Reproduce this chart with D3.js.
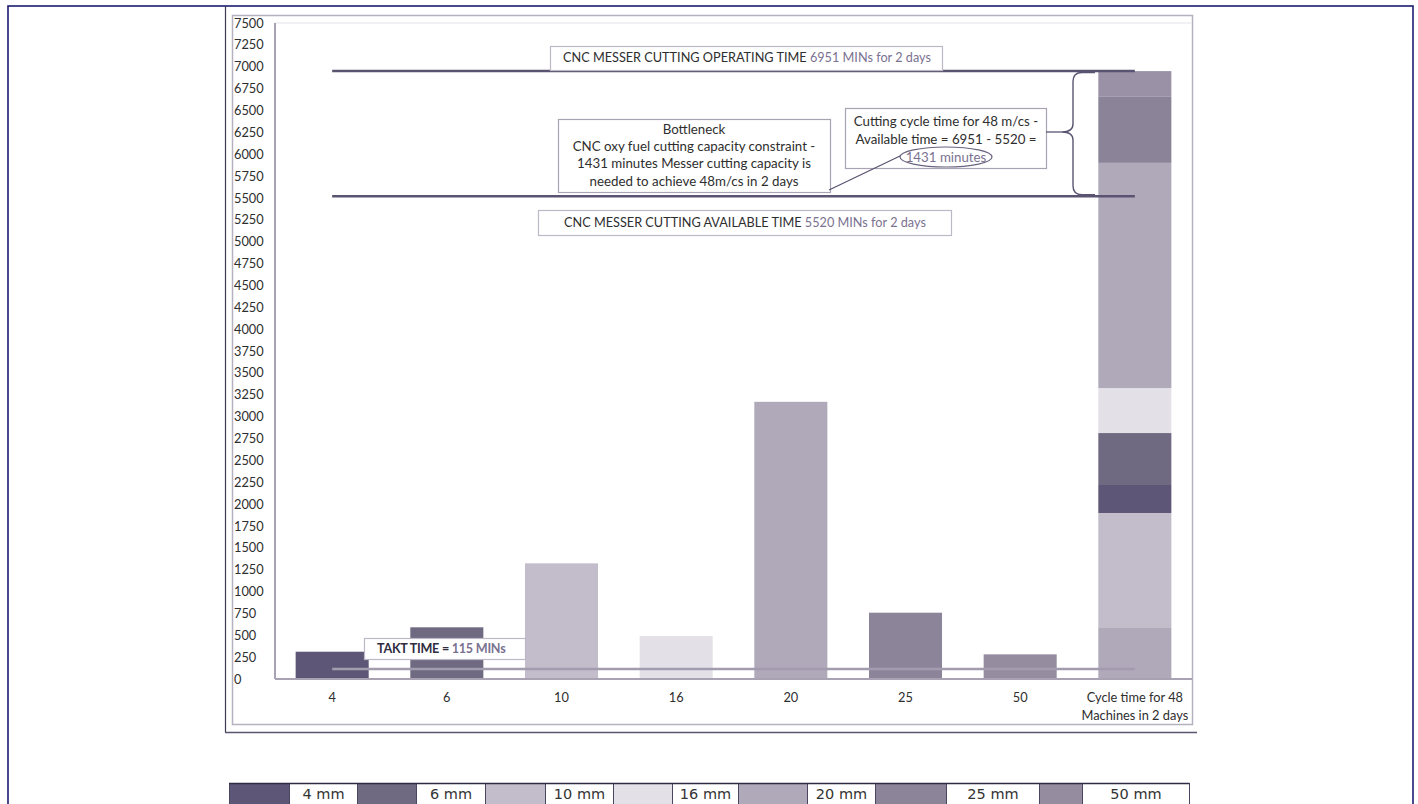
<!DOCTYPE html>
<html>
<head>
<meta charset="utf-8">
<script src="https://cdn.jsdelivr.net/npm/d3@7"></script>
<style>
  html, body { margin: 0; padding: 0; background: #ffffff; }
  svg { display: block; }
</style>
</head>
<body>
<svg id="chart" width="1418" height="804"></svg>
<script>
// ---------------- DATA ----------------
const categories = ["4", "6", "10", "16", "20", "25", "50", "Cycle time for 48 Machines in 2 days"];
const seriesNames = ["4 mm", "6 mm", "10 mm", "16 mm", "20 mm", "25 mm", "50 mm"];
const barValues = [312, 591, 1322, 491, 3169, 758, 282];
// stacked segments of the last column (bottom to top)
const stackSeries = ["20 mm", "10 mm", "4 mm", "6 mm", "16 mm", "20 mm", "25 mm", "50 mm"];
const stackValues = [583, 1315, 320, 594, 514, 2575, 755, 294];
const yTickValues = [0, 250, 500, 750, 1000, 1250, 1500, 1750, 2000, 2250, 2500, 2750, 3000, 3250, 3500,
  3750, 4000, 4250, 4500, 4750, 5000, 5250, 5500, 5750, 6000, 6250, 6500, 6750, 7000, 7250, 7500];
const operatingTime = 6951;
const availableTime = 5520;
const taktTime = 115;

// ---------------- STYLE ----------------
const seriesColors = {
  "4 mm": "#5e5676", "6 mm": "#6f6a82", "10 mm": "#c2bccb", "16 mm": "#e4e0e8",
  "20 mm": "#b0a9ba", "25 mm": "#8c8499", "50 mm": "#958d9f"
};
const stackColors = {
  "4 mm": "#5e5676", "6 mm": "#6f6a82", "10 mm": "#c2bccb", "16 mm": "#e4e0e8",
  "20 mm": "#b0a9ba", "25 mm": "#8b8398", "50 mm": "#9a91a6"
};
const darkText = "#2e2e2e";
const greyText = "#7a7290";
const font = "Lato, 'Open Sans', sans-serif";

const svg = d3.select("#chart");

// page border
svg.append("rect").attr("x", 8).attr("y", 6).attr("width", 1405).attr("height", 820)
  .attr("fill", "none").attr("stroke", "#1c1c72").attr("stroke-width", 1.6);

// image frame (dark left/bottom edges) and inner grey frame
svg.append("line").attr("x1", 225.5).attr("x2", 225.5).attr("y1", 6).attr("y2", 732.5)
  .attr("stroke", "#3d3a55").attr("stroke-width", 1.2);
svg.append("line").attr("x1", 225).attr("x2", 1197).attr("y1", 732.5).attr("y2", 732.5)
  .attr("stroke", "#5a5570").attr("stroke-width", 1.5);
svg.append("rect").attr("x", 232.5).attr("y", 15.5).attr("width", 960).attr("height", 709)
  .attr("fill", "#fff").attr("stroke", "#b6b1bf").attr("stroke-width", 1.5);

// ---------------- SCALES ----------------
const plot = { left: 275, right: 1192, top: 23, bottom: 679 };
const x = d3.scaleBand().domain(categories).range([plot.left, plot.right])
  .paddingInner(0.363).paddingOuter(0.18);
const y = d3.scaleLinear().domain([0, 7500]).range([plot.bottom, plot.top]);

// plot area top line (faint)
svg.append("line").attr("x1", plot.left).attr("x2", plot.right).attr("y1", plot.top).attr("y2", plot.top)
  .attr("stroke", "#ececef").attr("stroke-width", 1.5);

// ---------------- BARS ----------------
const singleCats = categories.slice(0, 7);
svg.append("g").selectAll("rect").data(barValues).join("rect")
  .attr("x", (d, i) => x(singleCats[i]))
  .attr("width", x.bandwidth())
  .attr("y", d => y(d))
  .attr("height", d => y(0) - y(d))
  .attr("fill", (d, i) => seriesColors[seriesNames[i]]);

// stacked column
const lastCat = categories[7];
let acc = 0;
const stackData = stackValues.map((v, i) => { const s = { y0: acc, y1: acc + v, name: stackSeries[i] }; acc += v; return s; });
svg.append("g").selectAll("rect").data(stackData).join("rect")
  .attr("x", x(lastCat))
  .attr("width", x.bandwidth())
  .attr("y", d => y(d.y1))
  .attr("height", d => y(d.y0) - y(d.y1))
  .attr("fill", d => stackColors[d.name]);

// ---------------- AXES ----------------
const yAxis = svg.append("g").attr("transform", `translate(${plot.left},0)`)
  .call(d3.axisLeft(y).tickValues(yTickValues).tickSize(0).tickFormat(d3.format("d")));
yAxis.select(".domain").remove();
yAxis.selectAll("text").attr("x", 234 - plot.left).attr("text-anchor", "start")
  .attr("font-family", font).attr("font-size", 12.8).attr("fill", darkText);

svg.append("line").attr("x1", plot.left).attr("x2", plot.left).attr("y1", plot.top).attr("y2", plot.bottom)
  .attr("stroke", "#a8a2b3").attr("stroke-width", 2);
svg.append("line").attr("x1", plot.left).attr("x2", plot.right).attr("y1", plot.bottom).attr("y2", plot.bottom)
  .attr("stroke", "#a8a2b3").attr("stroke-width", 2);

const xAxis = svg.append("g").attr("transform", `translate(0,${plot.bottom})`)
  .call(d3.axisBottom(x).tickSize(0).tickFormat(() => ""));
xAxis.select(".domain").remove();
xAxis.selectAll(".tick").each(function(d) {
  const t = d3.select(this).select("text").text(null)
    .attr("font-family", font).attr("font-size", 12.8).attr("fill", darkText).attr("y", 0).attr("dy", null);
  const lines = d === lastCat ? ["Cycle time for 48", "Machines in 2 days"] : [d];
  lines.forEach((l, k) => t.append("tspan").attr("x", 0).attr("y", 23 + k * 18).text(l));
});

// ---------------- REFERENCE LINES ----------------
const xStart = x(categories[0]) + x.bandwidth() / 2;
const xEnd = x(lastCat) + x.bandwidth() / 2;
[[operatingTime, "#5a5472"], [availableTime, "#5a5472"], [taktTime, "#a39cae"]].forEach(([v, c]) => {
  svg.append("line").attr("x1", xStart).attr("x2", xEnd).attr("y1", y(v)).attr("y2", y(v))
    .attr("stroke", c).attr("stroke-width", 2.5);
});

// ---------------- ANNOTATIONS ----------------
function box(x0, y0, w, h, stroke) {
  svg.append("rect").attr("x", x0 + 0.5).attr("y", y0 + 0.5).attr("width", w).attr("height", h)
    .attr("fill", "#fff").attr("stroke", stroke || "#bdb8c6").attr("stroke-width", 1.2);
}
function richText(cx, cy, parts, size, weight, anchor) {
  const t = svg.append("text").attr("x", cx).attr("y", cy).attr("dy", "0.35em")
    .attr("text-anchor", anchor || "middle").attr("font-family", font)
    .attr("font-size", size).attr("font-weight", weight || "normal");
  parts.forEach(([s, c]) => t.append("tspan").attr("fill", c).text(s));
  return t;
}

// operating time label
box(550, 46, 392, 24);
richText(747, 58, [["CNC MESSER CUTTING OPERATING TIME ", darkText], [operatingTime + " MINs for 2 days", greyText]], 12.7, "normal");

// available time label
box(538, 210, 413, 25);
richText(745, 222.5, [["CNC MESSER CUTTING AVAILABLE TIME ", darkText], [availableTime + " MINs for 2 days", greyText]], 12.7, "normal");

// bottleneck box
box(558, 119, 272, 73, "#a8a2b3");
["Bottleneck", "CNC oxy fuel cutting capacity constraint -", "1431 minutes Messer cutting capacity is",
 "needed to achieve 48m/cs in 2 days"].forEach((l, i) => {
  richText(694, 129 + i * 17.3, [[l, darkText]], 13.3, "normal");
});

// cycle time box
box(845, 108, 201, 60, "#a8a2b3");
richText(946, 121, [["Cutting cycle time for 48 m/cs -", darkText]], 13.3, "normal");
richText(946, 139, [["Available time = " + operatingTime + " - " + availableTime + " =", darkText]], 13.3, "normal");
richText(946, 157, [[(operatingTime - availableTime) + " minutes", greyText]], 13.3, "normal");
svg.append("ellipse").attr("cx", 946).attr("cy", 157).attr("rx", 46).attr("ry", 10)
  .attr("fill", "none").attr("stroke", "#6a6480").attr("stroke-width", 1.2);

// connector from ellipse to bottleneck box
svg.append("line").attr("x1", 900).attr("y1", 156).attr("x2", 829).attr("y2", 190)
  .attr("stroke", "#5a5472").attr("stroke-width", 1.3);

// curly brace
const bTop = y(operatingTime) + 1.5, bBot = y(availableTime) - 1.5, bx = 1073, bMid = 132;
svg.append("path")
  .attr("d", `M1095,${bTop} L1082,${bTop} Q${bx},${bTop} ${bx},${bTop + 9} L${bx},${bMid - 8} Q${bx},${bMid} 1062,${bMid}
              Q${bx},${bMid} ${bx},${bMid + 8} L${bx},${bBot - 9} Q${bx},${bBot} 1082,${bBot} L1095,${bBot}`)
  .attr("fill", "none").attr("stroke", "#5a5472").attr("stroke-width", 1.4);
svg.append("line").attr("x1", 1046).attr("x2", 1062).attr("y1", bMid).attr("y2", bMid)
  .attr("stroke", "#5a5472").attr("stroke-width", 1.3);

// takt time label
box(364, 638, 161, 21, "#bdb8c6");
richText(377, 648.5, [["TAKT TIME = ", "#2f2b40"], [taktTime + " MINs", greyText]], 12.6, "bold", "start")
  .attr("letter-spacing", -0.25);

// ---------------- LEGEND ----------------
const legendSwatchW = [60, 59, 60, 59, 69, 71, 43];
const legendLabelW = [68, 69, 68, 66, 68, 93, 107];
const legTop = 783.5, legH = 30;
let lx = 229.5;
const lg = svg.append("g");
seriesNames.forEach((name, i) => {
  lg.append("rect").attr("x", lx).attr("y", legTop).attr("width", legendSwatchW[i]).attr("height", legH)
    .attr("fill", seriesColors[name]).attr("stroke", "#4a4560").attr("stroke-width", 1);
  lx += legendSwatchW[i];
  lg.append("rect").attr("x", lx).attr("y", legTop).attr("width", legendLabelW[i]).attr("height", legH)
    .attr("fill", "#fff").attr("stroke", "#4a4560").attr("stroke-width", 1);
  lg.append("text").attr("x", lx + legendLabelW[i] / 2).attr("y", 799)
    .attr("text-anchor", "middle").attr("font-family", "'DejaVu Sans', Verdana, sans-serif")
    .attr("font-size", 14.5).attr("fill", "#333").text(name);
  lx += legendLabelW[i];
});
lg.append("line").attr("x1", 229).attr("x2", lx).attr("y1", legTop).attr("y2", legTop)
  .attr("stroke", "#2f2b45").attr("stroke-width", 1.6);
</script>
</body>
</html>
